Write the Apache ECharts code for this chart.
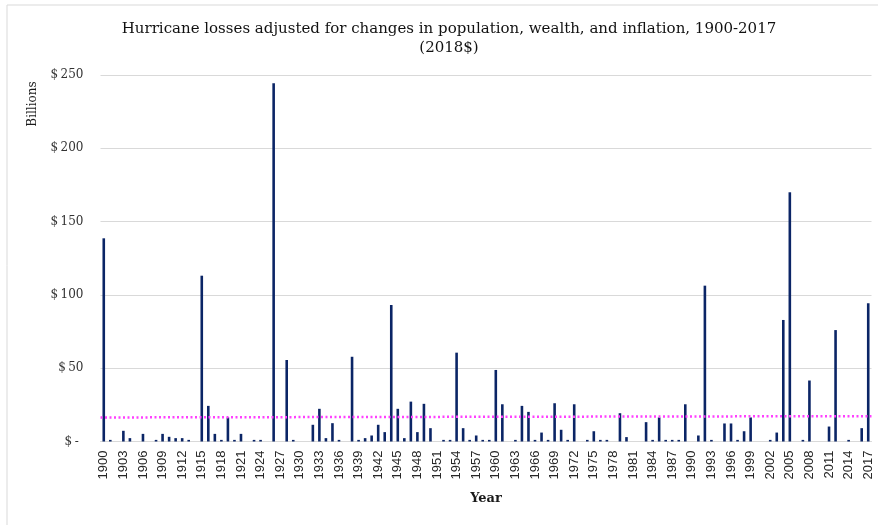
<!DOCTYPE html>
<html>
<head>
<meta charset="utf-8">
<script src="https://cdn.jsdelivr.net/npm/echarts@6/dist/echarts.min.js"></script>
<style>
html,body{margin:0;padding:0;background:#fff;}
#chart{width:878px;height:525px;}
</style>
</head>
<body>
<div id="chart"></div>
<script>
// ---- data ----
var years = [];
for (var y = 1900; y <= 2017; y++) years.push(String(y));

var losses = [
  138.6, 1.1, 0, 7.3, 2.3, 0, 5.2, 0, 1.1, 5.2,      // 1900-1909
  3.2, 2.3, 2.3, 1.1, 0, 113.1, 24.3, 5.2, 1.1, 16.4, // 1910-1919
  1.1, 5.2, 0, 1.1, 1.1, 0, 244.3, 0, 55.6, 1.1,      // 1920-1929
  0, 0, 11.4, 22.3, 2.3, 12.5, 1.1, 0, 57.8, 1.1,     // 1930-1939
  2.3, 4.1, 11.4, 6.4, 93.1, 22.3, 2.3, 27.2, 6.4, 25.7, // 1940-1949
  9.1, 0, 1.1, 1.1, 60.6, 9.1, 1.1, 4.1, 1.1, 1.1,    // 1950-1959
  48.8, 25.4, 0, 1.1, 24.3, 20.2, 1.1, 6.1, 1.1, 26.1, // 1960-1969
  8.0, 1.1, 25.4, 0, 1.1, 7.0, 1.1, 1.1, 0, 19.3,     // 1970-1979
  3.0, 0, 0, 13.2, 1.1, 16.4, 1.1, 1.1, 1.1, 25.4,    // 1980-1989
  0, 4.1, 106.3, 1.1, 0, 12.3, 12.3, 1.1, 7.0, 16.4,  // 1990-1999
  0, 0, 1.1, 6.1, 82.9, 170.0, 0, 1.1, 41.6, 0,       // 2000-2009
  0, 10.2, 76.0, 0, 1.1, 0, 9.1, 94.3                 // 2010-2017
];

// linear trend line (start, end) in billions
var trendEnds = [16.4, 17.3];

var yTicks = [0, 50, 100, 150, 200, 250];

// ---- chart ----
var chart = echarts.init(document.getElementById('chart'), null, {renderer: 'canvas'});
var serif = '"DejaVu Serif", "Liberation Serif", serif';

chart.setOption({
  animation: false,
  backgroundColor: '#ffffff',
  title: {
    text: 'Hurricane losses adjusted for changes in population, wealth, and inflation, 1900-2017\n(2018$)',
    left: 444,
    top: 15,
    textAlign: 'center',
    textStyle: {fontFamily: serif, fontSize: 15, fontWeight: 'normal', color: '#111', lineHeight: 19}
  },
  graphic: [
    {type: 'rect', shape: {x: 7, y: 5, width: 900, height: 600}, style: {fill: 'none', stroke: '#d9d9d9', lineWidth: 1}, silent: true},
    {type: 'text', x: 33, y: 104, rotation: Math.PI / 2,
     style: {text: 'Billions', fontFamily: serif, fontSize: 12, fill: '#1a1a1a', textAlign: 'center', textVerticalAlign: 'middle'}}
  ],
  grid: {left: 100.5, right: 6.5, top: 75, bottom: 83.5, containLabel: false},
  xAxis: [
    {
      type: 'category',
      data: years,
      boundaryGap: true,
      name: 'Year',
      nameLocation: 'middle',
      nameGap: 51,
      nameTextStyle: {fontFamily: serif, fontSize: 13, fontWeight: 'bold', color: '#1a1a1a'},
      axisLine: {lineStyle: {color: '#d9d9d9', width: 1}},
      axisTick: {show: false},
      axisLabel: {interval: 2, rotate: 90, margin: 9, fontFamily: '"Liberation Sans", Arial, sans-serif', fontSize: 13, color: '#262626'}
    },
    {type: 'value', min: 0, max: 1, show: false}
  ],
  yAxis: {
    type: 'value',
    min: 0, max: 250, interval: 50,
    axisLine: {show: false},
    axisTick: {show: false},
    splitLine: {lineStyle: {color: '#d9d9d9', width: 1}},
    axisLabel: {
      margin: 17,
      fontFamily: serif, fontSize: 12, color: '#333',
      formatter: function (v) { return v === 0 ? '$\u2009-\u2009\u2009' : '$\u2009' + v; }
    }
  },
  series: [
    {
      type: 'bar',
      data: losses,
      xAxisIndex: 0,
      barWidth: 2.6,
      itemStyle: {color: '#0b2566'}
    },
    {
      type: 'line',
      xAxisIndex: 1,
      data: [[0, trendEnds[0]], [1, trendEnds[1]]],
      symbol: 'none',
      lineStyle: {color: '#ff40ff', width: 2.5, type: [2, 2.5], cap: 'butt'},
      z: 5
    }
  ]
});
</script>
</body>
</html>
